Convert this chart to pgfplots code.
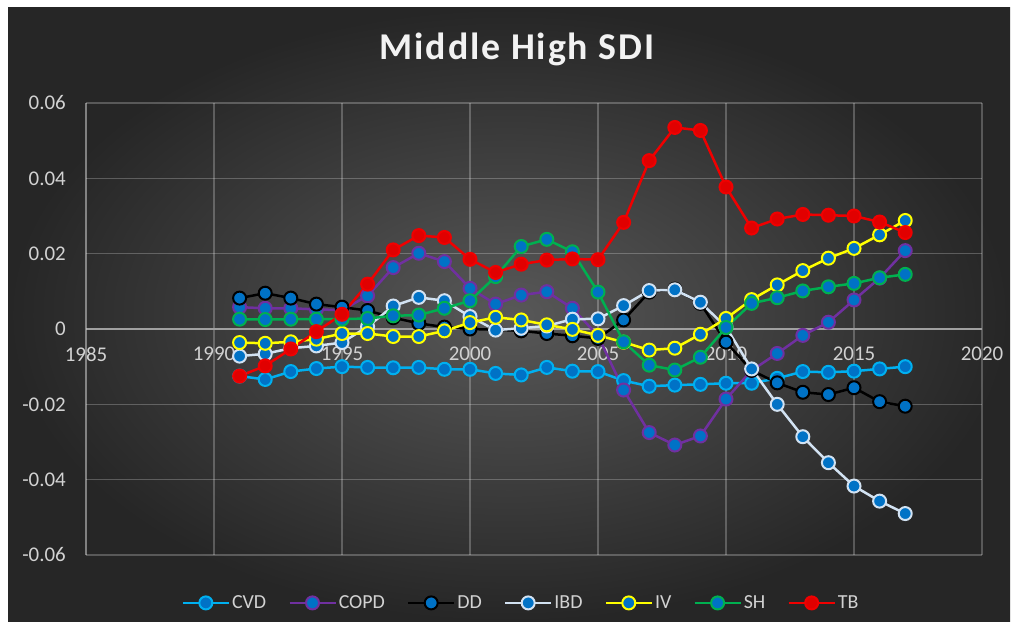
\documentclass[border=0pt]{standalone}
\usepackage{fontspec}
\setmainfont{Carlito}
\usepackage{pgfplots}
\pgfplotsset{compat=1.18}
\definecolor{bgin}{RGB}{88,88,88}
\definecolor{bgout}{RGB}{38,38,38}
\definecolor{titlec}{RGB}{242,242,242}
\definecolor{tickc}{RGB}{210,210,210}
\definecolor{axc}{RGB}{160,160,160}
\definecolor{mfill}{RGB}{0,114,198}
\definecolor{cvdc}{RGB}{0,176,240}
\definecolor{copdc}{RGB}{112,48,160}
\definecolor{ddc}{RGB}{0,0,0}
\definecolor{ibdc}{RGB}{210,226,242}
\definecolor{ivc}{RGB}{255,255,0}
\definecolor{shc}{RGB}{0,176,80}
\definecolor{tbc}{RGB}{240,0,0}
\definecolor{tbfill}{RGB}{225,0,0}
\begin{document}
\begin{tikzpicture}[x=1bp,y=1bp]
\fill[white] (0,0) rectangle (1017,630);
\shade[inner color=bgin, outer color=bgout] (8,8) rectangle (1010,622);
\node[font=\fontsize{38}{42}\selectfont\bfseries\addfontfeature{LetterSpace=5}, text=titlec] at (517,581) {Middle High SDI};
\begin{axis}[
  at={(86bp,75bp)}, anchor=south west,
  scale only axis, width=896bp, height=452bp,
  xmin=1985, xmax=2020, ymin=-0.06, ymax=0.06,
  axis x line=middle, axis y line=left,
  hide obscured x ticks=false, hide obscured y ticks=false,
  scaled y ticks=false, scaled x ticks=false,
  xtick={1985,1990,1995,2000,2005,2010,2015,2020},
  xticklabels={1985,1990,1995,2000,2005,2010,2015,2020},
  ytick={-0.06,-0.04,-0.02,0,0.02,0.04,0.06},
  yticklabels={-0.06,-0.04,-0.02,0,0.02,0.04,0.06},
  major tick length=0pt,
  grid=major,
  grid style={draw=white, draw opacity=0.24, line width=1.2bp},
  x axis line style={-, draw=axc, line width=1.5bp},
  y axis line style={-, draw=white, draw opacity=0.24, line width=1.2bp},
  ticklabel style={font=\fontsize{21}{25}\selectfont, text=tickc},
  xticklabel style={anchor=north, inner sep=0pt, yshift=-18bp},
  yticklabel style={anchor=east, inner sep=0pt, xshift=-20bp},
  clip=false,
  legend columns=7,
  legend style={at={(0.4855,-0.106)}, anchor=center, draw=none, fill=none,
    font=\fontsize{20}{24}\selectfont, text=tickc,
    /tikz/every even column/.append style={column sep=20bp}},
  legend image code/.code={\draw[mark repeat=2, mark phase=2] plot coordinates {(0bp,0bp) (23bp,0bp) (46bp,0bp)};},
  every axis plot/.append style={line width=2.5bp, mark=*, mark size=6.5bp},
]
\addplot[color=cvdc, mark options={fill=mfill, draw=cvdc, line width=2bp}] table {
1991 -0.0125
1992 -0.0134
1993 -0.0113
1994 -0.0105
1995 -0.0100
1996 -0.0102
1997 -0.0103
1998 -0.0102
1999 -0.0107
2000 -0.0107
2001 -0.0118
2002 -0.0122
2003 -0.0102
2004 -0.0112
2005 -0.0113
2006 -0.0137
2007 -0.0152
2008 -0.0149
2009 -0.0147
2010 -0.0144
2011 -0.0144
2012 -0.0131
2013 -0.0113
2014 -0.0115
2015 -0.0112
2016 -0.0106
2017 -0.0100
};
\addlegendentry{CVD}
\addplot[color=copdc, mark options={fill=mfill, draw=copdc, line width=2bp}] table {
1991 0.0058
1992 0.0055
1993 0.0055
1994 0.0052
1995 0.0050
1996 0.0088
1997 0.0163
1998 0.0201
1999 0.0179
2000 0.0108
2001 0.0066
2002 0.0090
2003 0.0099
2004 0.0055
2005 -0.0018
2006 -0.0162
2007 -0.0275
2008 -0.0308
2009 -0.0284
2010 -0.0186
2011 -0.0110
2012 -0.0065
2013 -0.0017
2014 0.0018
2015 0.0077
2016 0.0135
2017 0.0208
};
\addlegendentry{COPD}
\addplot[color=ddc, mark options={fill=mfill, draw=ddc, line width=2bp}] table {
1991 0.0082
1992 0.0095
1993 0.0082
1994 0.0066
1995 0.0058
1996 0.0049
1997 0.0030
1998 0.0015
1999 0.0005
2000 0.0000
2001 -0.0002
2002 -0.0005
2003 -0.0012
2004 -0.0018
2005 -0.0025
2006 0.0024
2007 0.0098
2008 0.0106
2009 0.0068
2010 -0.0035
2011 -0.0110
2012 -0.0143
2013 -0.0168
2014 -0.0174
2015 -0.0156
2016 -0.0193
2017 -0.0205
};
\addlegendentry{DD}
\addplot[color=ibdc, mark options={fill=mfill, draw=ibdc, line width=2bp}] table {
1991 -0.0072
1992 -0.0066
1993 -0.0051
1994 -0.0045
1995 -0.0036
1996 0.0006
1997 0.0061
1998 0.0084
1999 0.0075
2000 0.0033
2001 -0.0003
2002 0.0002
2003 0.0008
2004 0.0026
2005 0.0027
2006 0.0062
2007 0.0102
2008 0.0104
2009 0.0071
2010 0.0005
2011 -0.0106
2012 -0.0200
2013 -0.0286
2014 -0.0355
2015 -0.0417
2016 -0.0457
2017 -0.0490
};
\addlegendentry{IBD}
\addplot[color=ivc, mark options={fill=mfill, draw=ivc, line width=2bp}] table {
1991 -0.0036
1992 -0.0038
1993 -0.0034
1994 -0.0027
1995 -0.0012
1996 -0.0012
1997 -0.0020
1998 -0.0020
1999 -0.0005
2000 0.0017
2001 0.0031
2002 0.0024
2003 0.0011
2004 -0.0001
2005 -0.0017
2006 -0.0035
2007 -0.0056
2008 -0.0051
2009 -0.0014
2010 0.0028
2011 0.0078
2012 0.0117
2013 0.0155
2014 0.0188
2015 0.0214
2016 0.0250
2017 0.0288
};
\addlegendentry{IV}
\addplot[color=shc, mark options={fill=mfill, draw=shc, line width=2bp}] table {
1991 0.0026
1992 0.0025
1993 0.0026
1994 0.0026
1995 0.0026
1996 0.0028
1997 0.0035
1998 0.0037
1999 0.0055
2000 0.0075
2001 0.0139
2002 0.0219
2003 0.0238
2004 0.0205
2005 0.0098
2006 -0.0034
2007 -0.0096
2008 -0.0109
2009 -0.0075
2010 0.0004
2011 0.0068
2012 0.0083
2013 0.0101
2014 0.0112
2015 0.0121
2016 0.0136
2017 0.0145
};
\addlegendentry{SH}
\addplot[color=tbc, mark options={fill=tbfill, draw=tbc, line width=2bp}] table {
1991 -0.0125
1992 -0.0098
1993 -0.0053
1994 -0.0007
1995 0.0039
1996 0.0119
1997 0.0210
1998 0.0248
1999 0.0243
2000 0.0185
2001 0.0150
2002 0.0172
2003 0.0183
2004 0.0186
2005 0.0184
2006 0.0283
2007 0.0447
2008 0.0535
2009 0.0527
2010 0.0377
2011 0.0268
2012 0.0292
2013 0.0304
2014 0.0302
2015 0.0300
2016 0.0284
2017 0.0256
};
\addlegendentry{TB}
\end{axis}
\pgfresetboundingbox
\useasboundingbox (0,0) rectangle (1017,630);
\end{tikzpicture}
\end{document}
